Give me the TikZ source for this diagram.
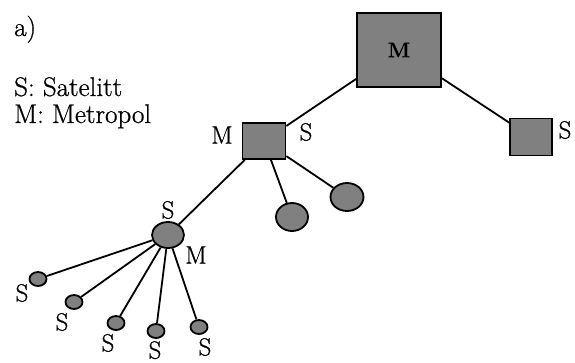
\documentclass[tikz,border=0pt]{standalone}
\usepackage{fontspec}
\setmainfont{Latin Modern Roman}[FakeBold=0.8]
\usetikzlibrary{shapes.geometric}
\newcommand{\lw}{1.8pt}

\begin{document}
\begin{tikzpicture}[x=1pt,y=-1pt,
    metro/.style={draw, rectangle, fill=gray, line width=\lw, inner sep=0pt, font=\fontsize{21}{23}\selectfont\bfseries},
    sat/.style={draw, ellipse, fill=gray, line width=\lw, inner sep=0pt},
    lbl/.style={inner sep=0pt, font=\fontsize{25}{27}\selectfont},
    lgd/.style={inner sep=0pt, anchor=base west, font=\fontsize{27}{29}\selectfont},
    link/.style={line width=\lw}]
    \useasboundingbox (0,0) rectangle (575,362);

    % Legend
    \node[lgd] (lbl-a) at (14,36) {a)};
    \node[lgd] (lbl-s) at (14,96) {S: Satelitt};
    \node[lgd] (lbl-m) at (14,123) {M: Metropol};

    % Metropols
    \node[metro, minimum width=84, minimum height=74] (big) at (399,50) {M};
    \node[metro, minimum width=42, minimum height=37] (right) at (531,137) {};
    \node[metro, minimum width=43, minimum height=36] (mid) at (264,141) {};

    % Satellites
    \node[sat, minimum width=33, minimum height=28] (c1) at (347,197) {};
    \node[sat, minimum width=32, minimum height=28] (c2) at (292,217) {};
    \node[sat, minimum width=32, minimum height=26] (sm) at (168,235) {};
    \node[sat, minimum width=17, minimum height=14] (s1) at (38,279) {};
    \node[sat, minimum width=17, minimum height=14] (s2) at (74,302) {};
    \node[sat, minimum width=17, minimum height=14] (s3) at (116,323) {};
    \node[sat, minimum width=17, minimum height=14] (s4) at (156,331) {};
    \node[sat, minimum width=17, minimum height=14] (s5) at (199,327) {};

    % Links
    \draw[link] (big) -- (mid);
    \draw[link] (big) -- (right);
    \draw[link] (mid) -- (c1);
    \draw[link] (mid) -- (c2);
    \draw[link] (mid) -- (sm);
    \foreach \i in {1,...,5}
        \draw[link] (sm) -- (s\i);

    % Labels
    \node[lbl] (lbl-mid-m) at (222,135) {M};
    \node[lbl] (lbl-mid-s) at (306,132) {S};
    \node[lbl] (lbl-right-s) at (565,130) {S};
    \node[lbl] (lbl-sm-s) at (168,210) {S};
    \node[lbl] (lbl-sm-m) at (196,255) {M};
    \node[lbl] (lbl-s1) at (22,293) {S};
    \node[lbl] (lbl-s2) at (62,322) {S};
    \node[lbl] (lbl-s3) at (108,343) {S};
    \node[lbl, anchor=north] (lbl-s4) at (155,341) {S};
    \node[lbl] (lbl-s5) at (205,347) {S};

\end{tikzpicture}
\end{document}
